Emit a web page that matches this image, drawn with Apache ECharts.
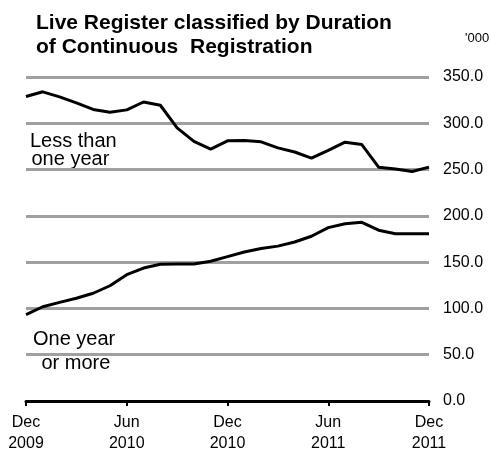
<!DOCTYPE html>
<html><head><meta charset="utf-8">
<script src="https://cdn.jsdelivr.net/npm/echarts@6/dist/echarts.min.js"></script>
<style>html,body{margin:0;padding:0;background:#fff}#c{width:489px;height:455px}</style>
</head><body><div id="c"></div>
<script>
const months = ['Dec\n2009','Jan','Feb','Mar','Apr','May','Jun\n2010','Jul','Aug','Sep','Oct','Nov','Dec\n2010',
  'Jan','Feb','Mar','Apr','May','Jun\n2011','Jul','Aug','Sep','Oct','Nov','Dec\n2011'];
const lessThanOneYear = [329,334,328.5,322,315,312,314.5,323,319.5,295,280.5,272,281,281.4,280,273.4,269,262.4,270.8,279.6,277,252.6,250.7,248,252.6];
const oneYearOrMore = [93.4,101.8,106.5,111,116.4,124.5,136.5,143.6,147.8,148,148,151,156,161,164.8,167.3,171.8,178,187.3,191.5,193,184.5,180.6,180.6,180.6];
const yTicks = {min:0, max:350, interval:50};

const chart = echarts.init(document.getElementById('c'));
const font = 'Liberation Sans, Arial, Helvetica, sans-serif';
chart.setOption({
  animation:false,
  title:{text:'Live Register classified by Duration\nof Continuous  Registration', left:31, top:6,
    textStyle:{fontFamily:font, fontSize:21, fontWeight:'bold', color:'#000', lineHeight:24}},
  grid:{left:26, right:60, top:77, bottom:54},
  xAxis:{type:'category', data:months, boundaryGap:false,
    axisLine:{lineStyle:{color:'#000', width:3}},
    axisTick:{interval:5, length:5, lineStyle:{color:'#000', width:2}},
    axisLabel:{interval:5, color:'#000', fontFamily:font, fontSize:16, lineHeight:21, margin:11},
    splitLine:{show:false}},
  yAxis:{type:'value', position:'right', min:yTicks.min, max:yTicks.max, interval:yTicks.interval,
    axisLine:{show:false}, axisTick:{show:false},
    axisLabel:{color:'#000', fontFamily:font, fontSize:16, margin:14, formatter:v=>v.toFixed(1)},
    splitLine:{lineStyle:{color:'#a0a0a0', width:3}}},
  series:[
    {type:'line', data:lessThanOneYear, showSymbol:false, lineStyle:{color:'#000', width:3}, z:5},
    {type:'line', data:oneYearOrMore, showSymbol:false, lineStyle:{color:'#000', width:3}, z:5}
  ],
  graphic:[
    {type:'text', x:465, y:38, style:{text:"'000", fontFamily:font, fontSize:13, fill:'#000', verticalAlign:'middle'}},
    {type:'text', x:30, y:141, style:{text:'Less than', fontFamily:font, fontSize:20, fill:'#000', verticalAlign:'middle'}},
    {type:'text', x:31.5, y:159.5, style:{text:'one year', fontFamily:font, fontSize:20, fill:'#000', verticalAlign:'middle'}},
    {type:'text', x:33, y:339, style:{text:'One year', fontFamily:font, fontSize:20, fill:'#000', verticalAlign:'middle'}},
    {type:'text', x:41.5, y:363, style:{text:'or more', fontFamily:font, fontSize:20, fill:'#000', verticalAlign:'middle'}}
  ]
});
</script></body></html>
